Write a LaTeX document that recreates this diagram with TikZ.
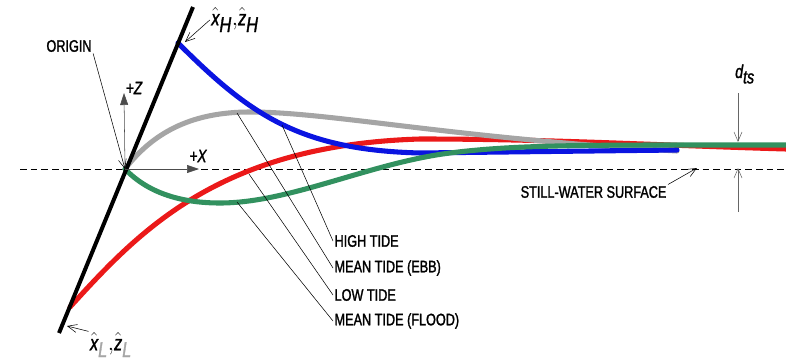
\documentclass[tikz,border=0pt]{standalone}
\usepackage{fontspec}
\setmainfont{Liberation Sans}[FakeStretch=0.76]
\newfontfamily\tidefont{Liberation Sans}[FakeStretch=0.76,FakeBold=1.5]
\usetikzlibrary{arrows.meta}

\definecolor{tideblue}{RGB}{10,20,225}
\definecolor{tidegray}{RGB}{165,165,165}
\definecolor{tidered}{RGB}{235,25,25}
\definecolor{tidegreen}{RGB}{50,145,95}

\begin{document}
\begin{tikzpicture}[x=0.75pt,y=-0.75pt,
        tide/.style={line width=3.8pt,line cap=round},
        leader/.style={thin,-{Straight Barb[length=7pt,width=6pt]}},
        lbl/.style={font=\tidefont\fontsize{12.5}{14}\selectfont,inner sep=1pt},
        axis/.style={thin,black!70,-{Triangle[length=9pt,width=6pt]}}]
    \useasboundingbox (0,0) rectangle (786,364);

    % still-water surface
    \draw[dash pattern=on 5pt off 3pt] (20,169) -- (786,169);

    % named points
    \coordinate (O) at (125,169);
    \coordinate (banktop) at (193,7);
    \coordinate (bankbot) at (59,333);

    % tide profiles
    \draw[tide,color=tidered] (70,307) .. controls (140,230) and (220,145) .. (420,139)
        .. controls (550,139) and (650,145) .. (786,149);
    \draw[tide,color=tidegray] (O) .. controls (155,130) and (195,112) .. (250,112)
        .. controls (330,112) and (450,138) .. (677,151);
    \draw[tide,color=tideblue] (178,43) .. controls (250,115) and (300,150) .. (420,153)
        -- (677,150);
    \draw[tide,color=tidegreen] (O) .. controls (150,195) and (185,203) .. (220,203)
        .. controls (290,203) and (370,163) .. (450,153)
        .. controls (520,144) and (600,145) .. (786,145);

    % beach face
    \draw[line width=3pt] (bankbot) -- (banktop);

    % axes
    \coordinate (ztip) at (124,93);
    \coordinate (xtip) at (199,169);
    \draw[axis] (O) -- (ztip);
    \draw[axis] (O) -- (xtip);
    \node[lbl,font=\tidefont\fontsize{13.5}{14}\selectfont\itshape] (zlbl) at (134,88) {+Z};
    \node[lbl,font=\tidefont\fontsize{13.5}{14}\selectfont\itshape] (xlbl) at (198,156) {+X};

    % origin
    \node[lbl] (originlbl) at (69,46) {ORIGIN};
    \draw[leader] (originlbl.south east) -- (O);

    % end points of the profiles
    \node[lbl,font=\tidefont\fontsize{16}{18}\selectfont] (hatH) at (235,20) {$\hat{\textit{x}}_{\textit{H}}{,}\hat{\textit{z}}_{\textit{H}}$};
    \coordinate (Hend) at (185,42);
    \draw[leader] (hatH.west) -- (Hend);
    \node[lbl,font=\tidefont\fontsize{16}{18}\selectfont] (hatL) at (111,345) {$\hat{\textit{x}}_{\textit{\color{black!35}L}}{,}\hat{\textit{z}}_{\textit{\color{black!35}L}}$};
    \coordinate (Lend) at (67,326);
    \draw[leader] (hatL.north west) -- (Lend);

    % tide labels
    \node[lbl,anchor=west] (high) at (333,241) {HIGH TIDE};
    \node[lbl,anchor=west] (ebb) at (333,268) {MEAN TIDE (EBB)};
    \node[lbl,anchor=west] (low) at (333,295) {LOW TIDE};
    \node[lbl,anchor=west] (flood) at (333,321) {MEAN TIDE (FLOOD)};
    \coordinate (hb) at (282,125);
    \coordinate (eg) at (237,113);
    \coordinate (lr) at (249,174);
    \coordinate (fg) at (237,202);
    \draw[thin] (hb) -- (high.west);
    \draw[thin] (eg) -- (ebb.west);
    \draw[thin] (lr) -- (low.west);
    \draw[thin] (fg) -- (flood.west);

    % still-water surface label
    \node[lbl,anchor=east] (swl) at (668,192) {STILL-WATER SURFACE};
    \coordinate (swlpt) at (697,168);
    \draw[leader] (swl.north east) -- (swlpt);

    % setup d_ts
    \node[lbl,font=\tidefont\fontsize{14}{16}\selectfont] (dts) at (745,74) {$\textit{d}_{\textit{ts}}$};
    \coordinate (dtopfree) at (738,93);
    \coordinate (dtop) at (738,142);
    \coordinate (dbotfree) at (738,212);
    \coordinate (dbot) at (738,168);
    \draw[leader,black!60] (dtopfree) -- (dtop);
    \draw[leader,black!60] (dbotfree) -- (dbot);
\end{tikzpicture}
\end{document}
